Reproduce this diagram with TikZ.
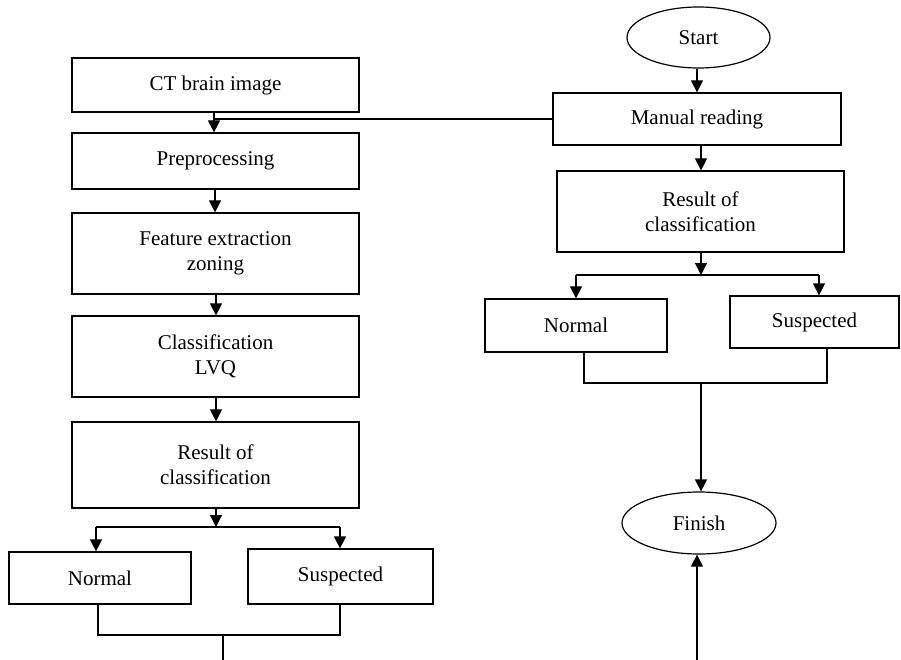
\documentclass[tikz,border=0pt]{standalone}
\usepackage{fontspec}
\setmainfont{Liberation Serif}
\usetikzlibrary{arrows.meta,shapes.geometric}
\begin{document}
\begin{tikzpicture}[x=1pt,y=-1pt,
  line width=1.2pt,
  box/.style={draw,rectangle,inner sep=0pt,align=center,font=\fontsize{21}{25}\selectfont},
  oval/.style={draw,ellipse,inner sep=0pt,font=\fontsize{21}{25}\selectfont},
  arr/.style={-{Triangle[width=12pt,length=12pt]}},
  ln/.style={-}]
\useasboundingbox (0,0) rectangle (901,660);
% left column
\node[box,minimum width=287pt,minimum height=54pt] (ct) at (215.5,85) {CT brain image};
\node[box,minimum width=287pt,minimum height=56pt] (pre) at (215.5,161) {Preprocessing};
\node[box,minimum width=287pt,minimum height=81pt] (feat) at (215.5,253.5) {Feature extraction\\zoning};
\node[box,minimum width=287pt,minimum height=81pt] (cls) at (215.5,356.5) {Classification\\LVQ};
\node[box,minimum width=287pt,minimum height=86pt] (resL) at (215.5,465) {Result of\\classification};
\node[box,minimum width=182pt,minimum height=52pt] (normL) at (100,578) {Normal};
\node[box,minimum width=185pt,minimum height=55pt] (suspL) at (340.5,576.5) {Suspected};
% right column
\node[oval,minimum width=143pt,minimum height=61pt] (start) at (698.5,37.5) {Start};
\node[box,minimum width=288pt,minimum height=52pt] (manual) at (697,119) {Manual reading};
\node[box,minimum width=287pt,minimum height=81pt] (resR) at (700.5,211.5) {Result of\\classification};
\node[box,minimum width=182pt,minimum height=53pt] (normR) at (576,325.5) {Normal};
\node[box,minimum width=169pt,minimum height=52pt] (suspR) at (814.5,322) {Suspected};
\node[oval,minimum width=154pt,minimum height=62pt] (finish) at (699,523) {Finish};
% coordinates
\coordinate (splitL) at (216,527);
\coordinate (mergeL) at (223,635);
\coordinate (endL) at (223,660);
\coordinate (splitR) at (701,275);
\coordinate (mergeR) at (701,383);
\coordinate (endR) at (697,660);
% left connectors
\draw[arr] (ct.south -| 214,0) -- (pre.north -| 214,0);
\draw[ln] (manual.west) -- (manual.west -| 214,0);
\draw[arr] (pre.south -| 215,0) -- (feat.north -| 215,0);
\draw[arr] (feat.south -| 216,0) -- (cls.north -| 216,0);
\draw[arr] (cls.south -| 216,0) -- (resL.north -| 216,0);
\draw[arr] (resL.south -| splitL) -- (splitL);
\draw[ln] (splitL -| 96,0) -- (splitL -| 340,0);
\draw[arr] (splitL -| 96,0) -- (normL.north -| 96,0);
\draw[arr] (splitL -| 340,0) -- (suspL.north -| 340,0);
\draw[ln] (normL.south -| 98,0) |- (mergeL) -| (suspL.south -| 340,0);
\draw[ln] (mergeL) -- (endL);
% right connectors
\draw[arr] (start.south -| 697,0) -- (manual.north -| 697,0);
\draw[arr] (manual.south -| 701,0) -- (resR.north -| 701,0);
\draw[arr] (resR.south -| splitR) -- (splitR);
\draw[ln] (splitR -| 576,0) -- (splitR -| 819,0);
\draw[arr] (splitR -| 576,0) -- (normR.north -| 576,0);
\draw[arr] (splitR -| 819,0) -- (suspR.north -| 819,0);
\draw[ln] (normR.south -| 584,0) |- (mergeR) -| (suspR.south -| 827,0);
\draw[arr] (mergeR) -- (finish.north -| mergeR);
\draw[arr] (endR) -- (finish.south -| endR);
\end{tikzpicture}
\end{document}
